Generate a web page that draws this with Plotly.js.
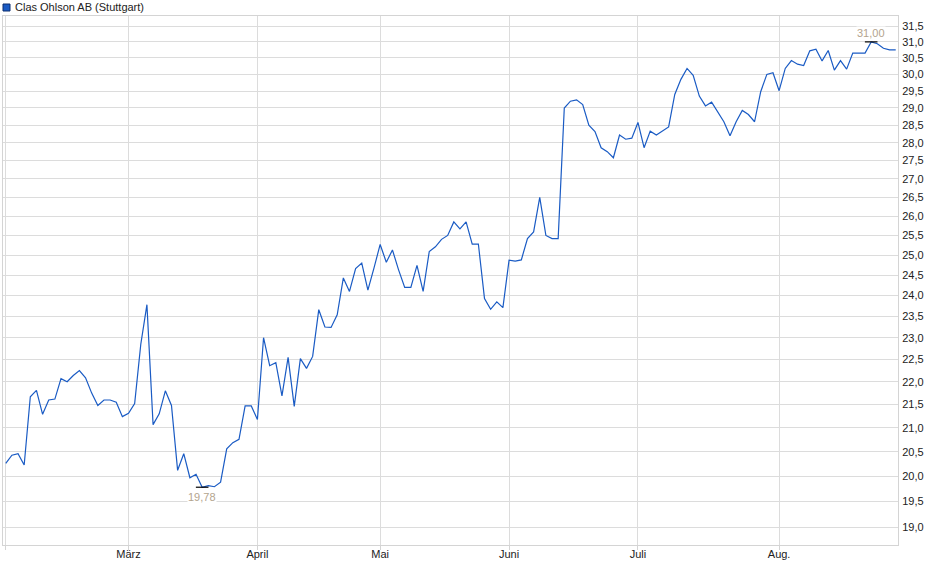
<!DOCTYPE html>
<html>
<head>
<meta charset="utf-8">
<script src="https://cdn.plot.ly/plotly-3.0.1.min.js"></script>
<style>
  html, body { margin: 0; padding: 0; background: #ffffff; }
  #chart { width: 940px; height: 579px; }
</style>
</head>
<body>
<div id="chart"></div>
<script>
// ---- Data ----
const seriesName = 'Clas Ohlson AB (Stuttgart)';

// Trading calendar: 2025-02-03 .. 2025-08-28, weekdays, exchange holidays removed
const startDate = '2025-02-03';
const endDate = '2025-08-28';
const holidays = ['2025-04-18', '2025-04-21', '2025-05-01'];

// Closing prices (EUR), one per trading day
const prices = [
  20.26, 20.43, 20.46, 20.23, 21.67, 21.81, 21.29, 21.60, 21.62, 22.07,
  22.00, 22.14, 22.25, 22.09, 21.75, 21.48, 21.60, 21.60, 21.55, 21.24,
  21.31, 21.52, 22.85, 23.78, 21.07, 21.30, 21.80, 21.48, 20.12, 20.46,
  19.97, 20.04, 19.78, 19.81, 19.79, 19.88, 20.56, 20.69, 20.76, 21.47,
  21.47, 21.18, 23.00, 22.36, 22.43, 21.69, 22.55, 21.46, 22.52, 22.30,
  22.57, 23.66, 23.25, 23.24, 23.54, 24.43, 24.10, 24.66, 24.80, 24.13,
  24.68, 25.27, 24.82, 25.13, 24.63, 24.20, 24.20, 24.74, 24.10, 25.09,
  25.21, 25.40, 25.50, 25.85, 25.67, 25.85, 25.28, 25.28, 23.93, 23.67,
  23.85, 23.71, 24.87, 24.85, 24.88, 25.42, 25.59, 26.50, 25.50, 25.42,
  25.42, 29.00, 29.20, 29.24, 29.10, 28.50, 28.32, 27.86, 27.75, 27.58,
  28.22, 28.10, 28.13, 28.58, 27.86, 28.33, 28.22, 28.33, 28.45, 29.40,
  29.85, 30.18, 29.97, 29.35, 29.06, 29.17, 28.88, 28.60, 28.20, 28.60,
  28.93, 28.81, 28.60, 29.48, 30.00, 30.05, 29.51, 30.18, 30.42, 30.31,
  30.27, 30.72, 30.77, 30.41, 30.73, 30.13, 30.42, 30.16, 30.65, 30.65,
  30.65, 31.00, 30.94, 30.80, 30.75, 30.75
];

// Month tick labels (first trading day of each month)
const monthTickDates = ['2025-02-03', '2025-03-03', '2025-04-01', '2025-05-02', '2025-06-02', '2025-07-01', '2025-08-01'];
const monthTickLabels = ['', 'März', 'April', 'Mai', 'Juni', 'Juli', 'Aug.'];

// Price axis ticks
const priceTicks = [19.0, 19.5, 20.0, 20.5, 21.0, 21.5, 22.0, 22.5, 23.0, 23.5, 24.0, 24.5, 25.0,
                    25.5, 26.0, 26.5, 27.0, 27.5, 28.0, 28.5, 29.0, 29.5, 30.0, 30.5, 31.0, 31.5];

// ---- Build trading dates ----
function pad(n) { return (n < 10 ? '0' : '') + n; }
const dates = [];
{
  let d = new Date(startDate + 'T12:00:00Z');
  const end = new Date(endDate + 'T12:00:00Z');
  while (d <= end) {
    const s = d.getUTCFullYear() + '-' + pad(d.getUTCMonth() + 1) + '-' + pad(d.getUTCDate());
    const wd = d.getUTCDay();
    if (wd !== 0 && wd !== 6 && holidays.indexOf(s) < 0) dates.push(s);
    d = new Date(d.getTime() + 86400000);
  }
}

const fmt = (v, n) => v.toFixed(n).replace('.', ',');

let iMin = 0, iMax = 0;
prices.forEach((v, i) => { if (v < prices[iMin]) iMin = i; if (v > prices[iMax]) iMax = i; });

const FONT = 'Liberation Sans, Arial, sans-serif';
const lineColor = '#1a5bc4';
const labelColor = '#b3a48e';

const traces = [
  {
    x: dates, y: prices, type: 'scatter', mode: 'lines',
    line: { color: lineColor, width: 1.2 },
    hoverinfo: 'skip', showlegend: false
  },
  {
    x: [dates[iMin], dates[iMax]], y: [prices[iMin], prices[iMax]],
    type: 'scatter', mode: 'markers',
    marker: { symbol: 'line-ew', size: 9, line: { color: '#000000', width: 1.2 } },
    hoverinfo: 'skip', showlegend: false
  }
];

// plot area: x 3..898, y 16..545
const nPts = dates.length;
const layout = {
  width: 940, height: 579,
  margin: { l: 3, r: 42, t: 16, b: 34, pad: 0 },
  paper_bgcolor: '#ffffff', plot_bgcolor: '#ffffff',
  font: { family: FONT, size: 11, color: '#222222' },
  showlegend: false,
  xaxis: {
    type: 'category',
    range: [-0.45, (nPts - 1) + 0.37],
    tickmode: 'array', tickvals: monthTickDates, ticktext: monthTickLabels,
    showgrid: true, gridcolor: '#dcdcdc', gridwidth: 1,
    showline: true, linecolor: '#d4d4d4', linewidth: 1, mirror: true,
    ticks: 'outside', ticklen: 4, tickcolor: '#d4d4d4',
    ticklabelstandoff: -5,
    tickfont: { family: FONT, size: 11, color: '#222222' },
    zeroline: false, fixedrange: true
  },
  yaxis: {
    type: 'log', side: 'right',
    range: [Math.log10(18.66), Math.log10(31.82)],
    tickmode: 'array', tickvals: priceTicks, ticktext: priceTicks.map(v => fmt(v, 1)),
    showgrid: true, gridcolor: '#dcdcdc', gridwidth: 1,
    showline: true, linecolor: '#d4d4d4', linewidth: 1, mirror: true,
    ticks: '', ticklabelstandoff: 1,
    tickfont: { family: FONT, size: 11, color: '#222222' },
    zeroline: false, fixedrange: true
  },
  shapes: [
    { type: 'rect', xref: 'paper', yref: 'paper',
      x0: 0.0, x1: 7 / 895, y0: (545 - 11) / 529, y1: (545 - 4) / 529,
      fillcolor: '#1a5bc4', line: { color: '#0d2f6e', width: 1 } }
  ],
  annotations: [
    { xref: 'paper', yref: 'paper', x: 10 / 895, y: (545 - 7.5) / 529,
      xanchor: 'left', yanchor: 'middle', showarrow: false,
      text: seriesName, font: { family: FONT, size: 11, color: '#222222' } },
    { x: iMin, y: Math.log10(prices[iMin]), xref: 'x', yref: 'y',
      text: fmt(prices[iMin], 2), showarrow: false, yanchor: 'top', yshift: -3,
      bgcolor: '#ffffff', borderpad: 0,
      font: { family: FONT, size: 11, color: labelColor } },
    { x: iMax, y: Math.log10(prices[iMax]), xref: 'x', yref: 'y',
      text: fmt(prices[iMax], 2), showarrow: false, yanchor: 'bottom', yshift: 2,
      bgcolor: '#ffffff', borderpad: 0,
      font: { family: FONT, size: 11, color: labelColor } }
  ]
};

Plotly.newPlot('chart', traces, layout, { staticPlot: true, displayModeBar: false });
</script>
</body>
</html>
